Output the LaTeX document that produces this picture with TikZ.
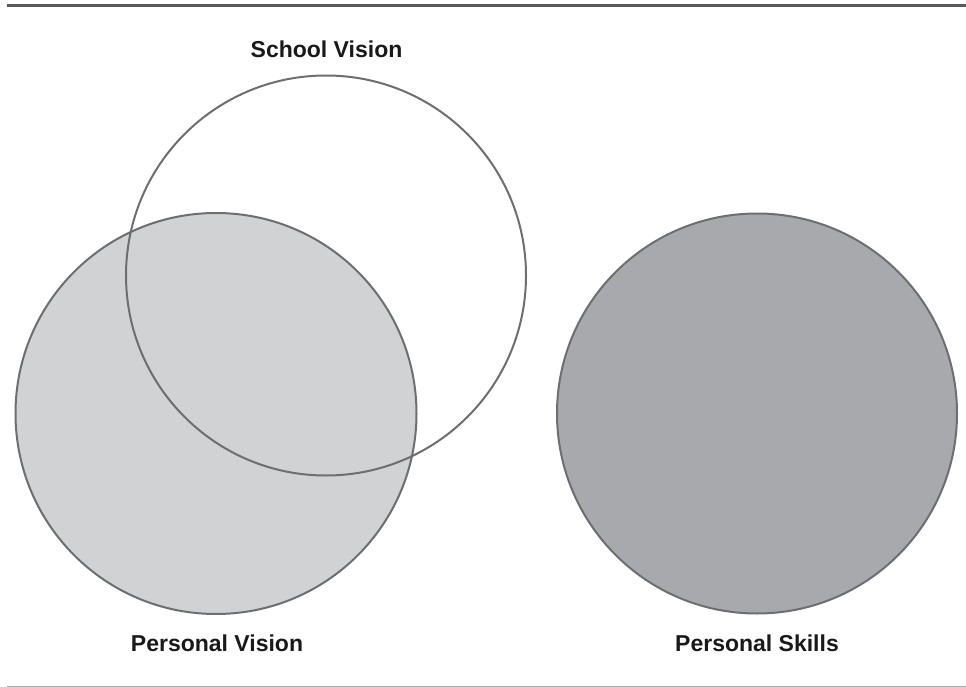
\documentclass[tikz,border=0pt]{standalone}
\usepackage{fontspec}
\setmainfont{Liberation Sans}
\definecolor{rimgray}{HTML}{6D6E71}
\definecolor{lightfill}{HTML}{D1D2D4}
\definecolor{midfill}{HTML}{A7A9AC}
\definecolor{topline}{HTML}{58595B}
\begin{document}
\begin{tikzpicture}[x=1pt,y=-1pt,
  ring/.style={draw=rimgray,line width=2pt},
  label/.style={font=\fontsize{23}{27}\selectfont\bfseries,text=black!90,inner sep=0pt,anchor=base}]
\useasboundingbox (0,0) rectangle (966,687);
% rules above and below
\draw[topline,line width=2.2pt] (7,5.5) -- (966,5.5);
\draw[midfill,line width=1.4pt] (7,686.3) -- (966,686.3);
% filled circles first, then the open one on top
\path[fill=lightfill] (216,413.5) circle (200.5);
\path[fill=midfill] (757,413.5) circle (200);
\draw[ring] (216,413.5) circle (200.5);
\draw[ring] (757,413.5) circle (200);
\draw[ring] (326,275.5) circle (200);
% labels
\node[label] (school) at (326.5,57.5) {School Vision};
\node[label] (pvision) at (217,651.5) {Personal Vision};
\node[label] (pskills) at (757,651.5) {Personal Skills};
\end{tikzpicture}
\end{document}
